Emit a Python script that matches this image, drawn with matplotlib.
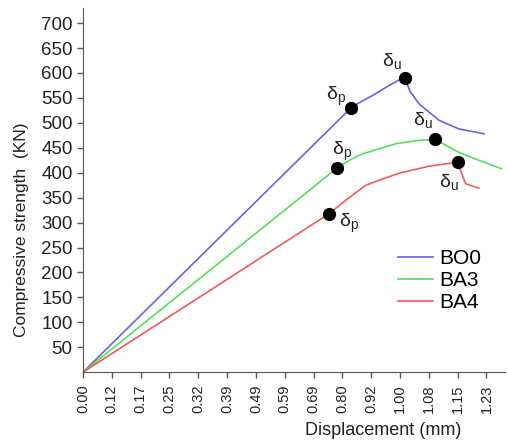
import numpy as np
import matplotlib
matplotlib.use("Agg")
import matplotlib.pyplot as plt

plt.rcParams['font.family'] = ['Liberation Sans', 'DejaVu Sans']

# displacement labels on the x axis (evenly spaced in the plot)
x_ticks = [0.00, 0.12, 0.17, 0.25, 0.32, 0.39, 0.49, 0.59, 0.69, 0.80,
           0.92, 1.00, 1.08, 1.15, 1.23]
y_ticks = list(range(50, 701, 50))

# load-displacement curves (mm, kN)
bo0_x = [0.0, 0.836, 0.880, 0.924, 0.970, 0.995, 1.013, 1.028, 1.053,
         1.105, 1.153, 1.223]
bo0_y = [0.0, 530, 543, 555, 575, 585, 590, 563, 538, 505, 488, 478]
ba3_x = [0.0, 0.779, 0.829, 0.884, 0.988, 1.042, 1.095, 1.153, 1.209, 1.272]
ba3_y = [0.0, 409, 425, 438, 458, 464, 467, 441, 425, 408]
ba4_x = [0.0, 0.750, 0.820, 0.898, 0.950, 0.998, 1.080, 1.150, 1.172, 1.209]
ba4_y = [0.0, 318, 347, 375, 387, 399, 413, 421, 378, 369]

# characteristic points: (x, y) of delta_p and delta_u
bo0_p, bo0_u = (0.836, 530), (1.013, 590)
ba3_p, ba3_u = (0.779, 409), (1.095, 467)
ba4_p, ba4_u = (0.750, 318), (1.150, 421)

# label anchors for the delta annotations
labels = [
    ('p', 0.777, 553), ('u', 0.978, 625),
    ('p', 0.800, 443), ('u', 1.064, 505),
    ('p', 0.829, 299), ('u', 1.129, 381),
]

# piecewise mapping so the tick labels sit at equal spacing
ext_vals = np.array(x_ticks + [1.31, 1.39])
ext_pos = np.arange(len(ext_vals), dtype=float)


def fwd(x):
    return np.interp(x, ext_vals, ext_pos)


def inv(p):
    return np.interp(p, ext_pos, ext_vals)


fig = plt.figure(figsize=(5.08, 4.42), dpi=100)
ax = fig.add_axes([0.1634, 0.158, 0.831, 0.8235])
ax.set_xscale('function', functions=(fwd, inv))

ax.plot(bo0_x, bo0_y, color='#6464e6', lw=1.2, label='BO0')
ax.plot(ba3_x, ba3_y, color='#55e055', lw=1.2, label='BA3')
ax.plot(ba4_x, ba4_y, color='#f05a5a', lw=1.2, label='BA4')

pts = [bo0_p, bo0_u, ba3_p, ba3_u, ba4_p, ba4_u]
ax.plot([p[0] for p in pts], [p[1] for p in pts], 'o', color='black',
        ms=8.5, zorder=5)

for sub, lx, ly in labels:
    ax.text(lx, ly, '$\\mathregular{δ_%s}$' % sub, fontsize=14,
            ha='center', va='center', color='#222222')

ax.set_xlim(0, inv(14.65))
ax.set_ylim(0, 730)
ax.set_xticks(x_ticks)
ax.set_xticklabels([f'{v:.2f}' for v in x_ticks], rotation=90)
ax.set_yticks(y_ticks)
ax.tick_params(direction='out', length=4, width=1, colors='#555555',
               labelcolor='#222222', labelsize=13.5)
ax.tick_params(axis='x', labelsize=10.5, pad=5)

for side in ['top', 'right']:
    ax.spines[side].set_visible(False)
for side in ['left', 'bottom']:
    ax.spines[side].set_color('#555555')

ax.set_xlabel('Displacement (mm)', fontsize=13, color='#222222')
ax.set_ylabel('Compressive strength  (KN)', fontsize=12.5, color='#222222')
ax.xaxis.set_label_coords(0.711, -0.137)
ax.yaxis.set_label_coords(-0.128, 0.39)

ax.legend(loc='upper left', bbox_to_anchor=(0.745, 0.338), frameon=False,
          fontsize=15, handlelength=1.7, handletextpad=0.3,
          labelspacing=0.15, borderpad=0, borderaxespad=0)

fig.savefig('out.png', dpi=100)
